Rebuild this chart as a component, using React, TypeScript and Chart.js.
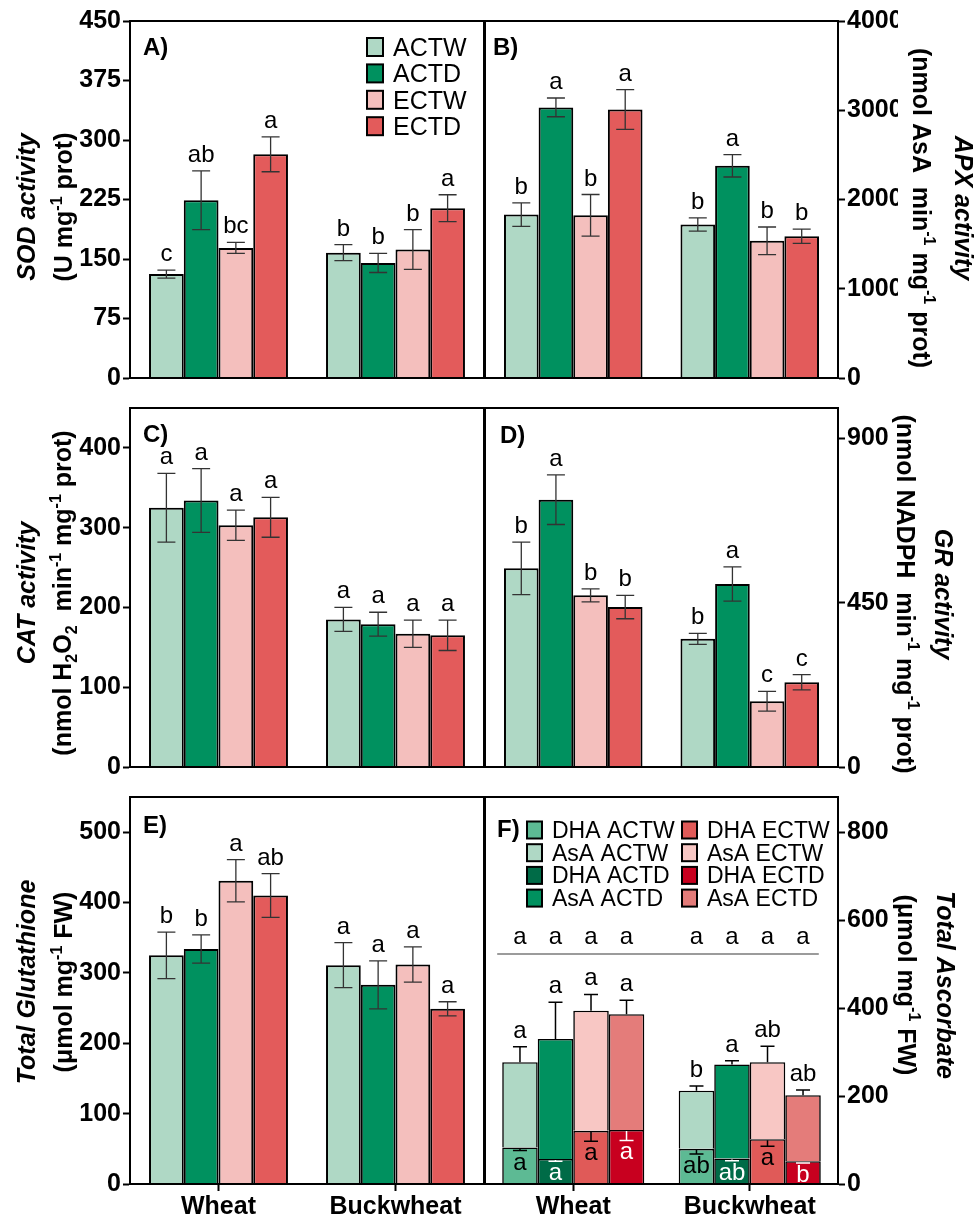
import React, { useEffect, useRef } from 'react';
import { Chart, registerables } from 'chart.js';

Chart.register(...registerables);

const FONT = '"Liberation Sans", Arial, Helvetica, sans-serif';

const CROPS = ['Wheat', 'Buckwheat'];
const TREATMENTS = ['ACTW', 'ACTD', 'ECTW', 'ECTD'];
const TREATMENT_COLORS = ['#afd8c5', '#00915f', '#f4bfbd', '#e35b5b'];

// A) SOD activity, per treatment: [Wheat, Buckwheat]
const sodTicks = [0, 75, 150, 225, 300, 375, 450];
const sodMean = [[131, 158], [224, 145], [164, 162], [282, 214]];
const sodErr = [[5, 10], [37, 12], [7, 25], [22, 17]];
const sodSig = [['c', 'b'], ['ab', 'b'], ['bc', 'b'], ['a', 'a']];

// B) APX activity
const apxTicks = [0, 1000, 2000, 3000, 4000];
const apxMean = [[1831, 1720], [3032, 2377], [1823, 1537], [3008, 1589]];
const apxErr = [[132, 75], [105, 125], [233, 155], [222, 80]];
const apxSig = [['b', 'b'], ['a', 'a'], ['b', 'b'], ['a', 'b']];

// C) CAT activity
const catTicks = [0, 100, 200, 300, 400];
const catMean = [[325, 185], [334, 179], [303, 167], [313, 165]];
const catErr = [[43, 15], [40, 15], [19, 17], [25, 19]];
const catSig = [['a', 'a'], ['a', 'a'], ['a', 'a'], ['a', 'a']];

// D) GR activity
const grTicks = [0, 450, 900];
const grMean = [[544, 351], [732, 501], [470, 180], [438, 232]];
const grErr = [[72, 15], [68, 47], [18, 27], [32, 21]];
const grSig = [['b', 'b'], ['a', 'a'], ['b', 'c'], ['b', 'c']];

// E) Total glutathione
const gshTicks = [0, 100, 200, 300, 400, 500];
const gshMean = [[325, 311], [334, 283], [431, 312], [410, 249]];
const gshErr = [[33, 32], [20, 34], [30, 25], [31, 10]];
const gshSig = [['b', 'a'], ['b', 'a'], ['a', 'a'], ['ab', 'a']];

// F) Total ascorbate = DHA + AsA (stacked)
const ascTicks = [0, 200, 400, 600, 800];
const dhaMean = [[83, 80], [57, 58], [121, 102], [123, 52]];
const dhaErr = [[7, 12], [5, 5], [24, 16], [24, 4]];
const dhaSig = [['a', 'ab'], ['a', 'ab'], ['a', 'a'], ['a', 'b']];
const asaMean = [[194, 132], [273, 214], [273, 175], [263, 150]];
const totalAscErr = [[35, 11], [83, 8], [37, 36], [32, 12]];
const totalAscSig = [['a', 'b'], ['a', 'a'], ['a', 'ab'], ['a', 'ab']];
const asaRowSig = [['a', 'a'], ['a', 'a'], ['a', 'a'], ['a', 'a']];
const ascLabels = ['DHA ACTW', 'AsA ACTW', 'DHA ACTD', 'AsA ACTD', 'DHA ECTW', 'AsA ECTW', 'DHA ECTD', 'AsA ECTD'];
const ascColors = ['#5dba94', '#afd8c5', '#006b47', '#00915f', '#e05a58', '#f8c7c4', '#c8001f', '#e47c7a'];
const dhaInkColors = ['#000', '#fff', '#000', '#fff'];

type Run = { t: string; i?: boolean; sup?: boolean; sub?: boolean };
type Panel = {
  key: string;
  area: { l: number; r: number; t: number; b: number };
  side: 'left' | 'right';
  max: number;
  ticks: number[];
  tag: string;
  tagOff: [number, number];
  title: [Run[], Run[]];
  titleX: [number, number];
  titleY: number;
  showX: boolean;
  kind: 'bar' | 'stack';
  mean?: number[][];
  err?: number[][];
  sig?: string[][];
};

const minus1: Run = { t: '-1', sup: true };

const PANELS: Panel[] = [
  {
    key: 'A', area: { l: 130, r: 484, t: 21, b: 408 }, side: 'left', max: 450, ticks: sodTicks,
    tag: 'A)', tagOff: [13, 34], showX: false, kind: 'bar',
    title: [[{ t: 'SOD activity', i: true }], [{ t: '(U mg' }, minus1, { t: ' prot)' }]],
    titleX: [35, 72], titleY: 207, mean: sodMean, err: sodErr, sig: sodSig,
  },
  {
    key: 'B', area: { l: 485, r: 838, t: 21, b: 408 }, side: 'right', max: 4000, ticks: apxTicks,
    tag: 'B)', tagOff: [8, 34], showX: false, kind: 'bar',
    title: [[{ t: 'APX activity', i: true }], [{ t: '(nmol AsA  min' }, minus1, { t: ' mg' }, minus1, { t: ' prot)' }]],
    titleX: [955, 913], titleY: 208, mean: apxMean, err: apxErr, sig: apxSig,
  },
  {
    key: 'C', area: { l: 130, r: 484, t: 408, b: 797 }, side: 'left', max: 450, ticks: catTicks,
    tag: 'C)', tagOff: [13, 34], showX: false, kind: 'bar',
    title: [[{ t: 'CAT activity', i: true }], [{ t: '(nmol H' }, { t: '2', sub: true }, { t: 'O' }, { t: '2', sub: true }, { t: '  min' }, minus1, { t: ' mg' }, minus1, { t: ' prot)' }]],
    titleX: [35, 71], titleY: 593, mean: catMean, err: catErr, sig: catSig,
  },
  {
    key: 'D', area: { l: 485, r: 838, t: 408, b: 797 }, side: 'right', max: 983, ticks: grTicks,
    tag: 'D)', tagOff: [15, 35], showX: false, kind: 'bar',
    title: [[{ t: 'GR activity', i: true }], [{ t: '(nmol NADPH  min' }, minus1, { t: ' mg' }, minus1, { t: ' prot)' }]],
    titleX: [935, 897], titleY: 594, mean: grMean, err: grErr, sig: grSig,
  },
  {
    key: 'E', area: { l: 130, r: 484, t: 797, b: 1184 }, side: 'left', max: 550, ticks: gshTicks,
    tag: 'E)', tagOff: [13, 36], showX: true, kind: 'bar',
    title: [[{ t: 'Total Glutathione', i: true }], [{ t: '(\u03bcmol mg' }, minus1, { t: ' FW)' }]],
    titleX: [35, 72], titleY: 982, mean: gshMean, err: gshErr, sig: gshSig,
  },
  {
    key: 'F', area: { l: 485, r: 838, t: 797, b: 1184 }, side: 'right', max: 880, ticks: ascTicks,
    tag: 'F)', tagOff: [12, 40], showX: true, kind: 'stack',
    title: [[{ t: 'Total Ascorbate', i: true }], [{ t: '(\u03bcmol mg' }, minus1, { t: ' FW)' }]],
    titleX: [937, 898], titleY: 985,
  },
];

const W = 976;
const H = 1220;
const AXIS_W = 60;
const AXIS_H = 30;

function runFont(r: Run, size: number) {
  const s = r.sup || r.sub ? Math.round(size * 0.62) : size;
  return `${r.i ? 'italic ' : ''}bold ${s}px ${FONT}`;
}

function drawRich(ctx: CanvasRenderingContext2D, runs: Run[], x: number, y: number, angle: number, size: number) {
  ctx.save();
  ctx.translate(x, y);
  ctx.rotate(angle);
  ctx.textBaseline = 'alphabetic';
  ctx.textAlign = 'left';
  ctx.fillStyle = '#000';
  let total = 0;
  for (const r of runs) {
    ctx.font = runFont(r, size);
    total += ctx.measureText(r.t).width;
  }
  let cx = -total / 2;
  for (const r of runs) {
    ctx.font = runFont(r, size);
    const dy = r.sup ? -size * 0.42 : r.sub ? size * 0.22 : 0;
    ctx.fillText(r.t, cx, dy);
    cx += ctx.measureText(r.t).width;
  }
  ctx.restore();
}

function capLine(ctx: CanvasRenderingContext2D, x: number, y: number, w: number) {
  ctx.moveTo(x - w / 2, y);
  ctx.lineTo(x + w / 2, y);
}

function makePlugin(p: Panel) {
  return {
    id: 'panelDecor' + p.key,
    afterDatasetsDraw(chart: any) {
      const ctx: CanvasRenderingContext2D = chart.ctx;
      const a = chart.chartArea;
      const ys = chart.scales.y;
      ctx.save();

      // frame around the plot area
      ctx.strokeStyle = '#000';
      ctx.lineWidth = 2;
      ctx.strokeRect(a.left, a.top, a.right - a.left, a.bottom - a.top);

      ctx.textAlign = 'center';
      ctx.textBaseline = 'alphabetic';

      if (p.kind === 'bar' && p.mean && p.err && p.sig) {
        const capW = 18;
        for (let t = 0; t < TREATMENTS.length; t++) {
          const meta = chart.getDatasetMeta(t);
          for (let i = 0; i < CROPS.length; i++) {
            const bar = meta.data[i];
            const v = p.mean[t][i];
            const e = p.err[t][i];
            const yHi = ys.getPixelForValue(v + e);
            const yLo = ys.getPixelForValue(v - e);
            ctx.strokeStyle = '#333';
            ctx.lineWidth = 1.3;
            ctx.beginPath();
            ctx.moveTo(bar.x, yHi);
            ctx.lineTo(bar.x, yLo);
            capLine(ctx, bar.x, yHi, capW);
            capLine(ctx, bar.x, yLo, capW);
            ctx.stroke();
            ctx.fillStyle = '#000';
            ctx.font = `24px ${FONT}`;
            ctx.fillText(p.sig[t][i], bar.x, yHi - 9);
          }
        }
      }

      if (p.kind === 'stack') {
        const capW = 14;
        let firstLeft = Infinity;
        let lastRight = -Infinity;
        for (let t = 0; t < TREATMENTS.length; t++) {
          const dMeta = chart.getDatasetMeta(2 * t);
          for (let i = 0; i < CROPS.length; i++) {
            const bar = dMeta.data[i];
            firstLeft = Math.min(firstLeft, bar.x - bar.width / 2);
            lastRight = Math.max(lastRight, bar.x + bar.width / 2);
            // total ascorbate: upward error bar
            const total = dhaMean[t][i] + asaMean[t][i];
            const yTop = ys.getPixelForValue(total);
            const yCap = ys.getPixelForValue(total + totalAscErr[t][i]);
            ctx.strokeStyle = '#000';
            ctx.lineWidth = 1.5;
            ctx.beginPath();
            ctx.moveTo(bar.x, yTop);
            ctx.lineTo(bar.x, yCap);
            capLine(ctx, bar.x, yCap, capW);
            ctx.stroke();
            ctx.fillStyle = '#000';
            ctx.font = `24px ${FONT}`;
            ctx.fillText(totalAscSig[t][i], bar.x, yCap - 9);

            // DHA: downward error bar inside the segment
            const dTop = ys.getPixelForValue(dhaMean[t][i]);
            const dCap = ys.getPixelForValue(dhaMean[t][i] - dhaErr[t][i]);
            ctx.strokeStyle = dhaInkColors[t];
            ctx.beginPath();
            ctx.moveTo(bar.x, dTop + 1);
            ctx.lineTo(bar.x, dCap);
            capLine(ctx, bar.x, dCap, capW);
            ctx.stroke();
            ctx.fillStyle = dhaInkColors[t];
            ctx.fillText(dhaSig[t][i], bar.x, Math.min(dCap + 19, a.bottom - 2));

            // AsA letters row
            ctx.fillStyle = '#000';
            ctx.fillText(asaRowSig[t][i], bar.x, ys.getPixelForValue(545));
          }
        }
        const yRule = ys.getPixelForValue(523);
        ctx.strokeStyle = '#7a7a7a';
        ctx.lineWidth = 1.5;
        ctx.beginPath();
        ctx.moveTo(firstLeft - 5, yRule);
        ctx.lineTo(lastRight - 2, yRule);
        ctx.stroke();

        // two-column legend
        ctx.font = `23px ${FONT}`;
        ctx.textAlign = 'left';
        for (let k = 0; k < ascLabels.length; k++) {
          const col = Math.floor(k / 4);
          const row = k % 4;
          const bx = a.left + (col === 0 ? 42 : 197);
          const cy = a.top + 33 + row * 22.7;
          ctx.fillStyle = ascColors[k];
          ctx.fillRect(bx, cy - 8.5, 15, 17);
          ctx.strokeStyle = '#000';
          ctx.lineWidth = 2;
          ctx.strokeRect(bx, cy - 8.5, 15, 17);
          ctx.fillStyle = '#000';
          ctx.fillText(ascLabels[k], bx + 25, cy + 8);
        }
      }

      if (p.key === 'A') {
        ctx.font = `25px ${FONT}`;
        ctx.textAlign = 'left';
        for (let t = 0; t < TREATMENTS.length; t++) {
          const cy = a.top + 26 + t * 26.4;
          const bx = a.left + 237;
          ctx.fillStyle = TREATMENT_COLORS[t];
          ctx.fillRect(bx, cy - 9, 16, 18);
          ctx.strokeStyle = '#000';
          ctx.lineWidth = 2;
          ctx.strokeRect(bx, cy - 9, 16, 18);
          ctx.fillStyle = '#000';
          ctx.fillText(TREATMENTS[t], bx + 26, cy + 9);
        }
      }

      // panel tag
      ctx.fillStyle = '#000';
      ctx.font = `bold 24px ${FONT}`;
      ctx.textAlign = 'left';
      ctx.fillText(p.tag, a.left + p.tagOff[0], a.top + p.tagOff[1]);

      // axis titles
      const ang = p.side === 'left' ? -Math.PI / 2 : Math.PI / 2;
      drawRich(ctx, p.title[0], p.titleX[0], p.titleY, ang, 25);
      drawRich(ctx, p.title[1], p.titleX[1], p.titleY, ang, 25);

      ctx.restore();
    },
  };
}

function buildConfig(p: Panel): any {
  const padding = {
    left: p.side === 'left' ? p.area.l - AXIS_W : p.area.l,
    right: p.side === 'right' ? W - p.area.r - AXIS_W : W - p.area.r,
    top: p.area.t,
    bottom: H - p.area.b - (p.showX ? AXIS_H : 0),
  };
  let datasets: any[];
  if (p.kind === 'bar') {
    datasets = TREATMENTS.map((name, t) => ({
      label: name,
      data: p.mean![t],
      backgroundColor: TREATMENT_COLORS[t],
      borderColor: '#000',
      borderWidth: 2,
      borderSkipped: 'bottom',
      categoryPercentage: 0.785,
      barPercentage: 1,
    }));
  } else {
    datasets = [];
    TREATMENTS.forEach((name, t) => {
      datasets.push({
        label: ascLabels[2 * t], data: dhaMean[t], stack: name,
        backgroundColor: ascColors[2 * t], borderColor: '#000', borderWidth: 1.6, borderSkipped: 'bottom',
        categoryPercentage: 0.805, barPercentage: 1,
      });
      datasets.push({
        label: ascLabels[2 * t + 1], data: asaMean[t], stack: name,
        backgroundColor: ascColors[2 * t + 1], borderColor: '#000', borderWidth: 1.6, borderSkipped: 'bottom',
        categoryPercentage: 0.805, barPercentage: 1,
      });
    });
  }
  const stacked = p.kind === 'stack';
  return {
    type: 'bar',
    data: { labels: CROPS, datasets },
    options: {
      animation: false,
      responsive: false,
      devicePixelRatio: 1,
      events: [],
      layout: { padding },
      plugins: { legend: { display: false }, tooltip: { enabled: false } },
      scales: {
        x: {
          type: 'category',
          display: p.showX,
          stacked,
          afterFit: (s: any) => { s.height = AXIS_H; },
          grid: { display: true, drawOnChartArea: false, offset: false, tickLength: 7, tickWidth: 2, tickColor: '#000' },
          border: { display: true, width: 2, color: '#000' },
          ticks: { color: '#000', font: { family: FONT, size: 25, weight: 'bold' }, padding: 1, maxRotation: 0, autoSkip: false },
        },
        y: {
          type: 'linear',
          position: p.side,
          min: 0,
          max: p.max,
          stacked,
          afterFit: (s: any) => { s.width = AXIS_W; },
          afterBuildTicks: (s: any) => { s.ticks = p.ticks.map((v) => ({ value: v })); },
          grid: { drawOnChartArea: false, tickLength: 7, tickWidth: 2, tickColor: '#000' },
          border: { display: true, width: 2, color: '#000' },
          ticks: {
            color: '#000',
            font: { family: FONT, size: 25, weight: 'bold' },
            padding: 2,
            callback: (v: any) => String(v),
          },
        },
      },
    },
    plugins: [makePlugin(p)],
  };
}

function PanelCanvas({ panel }: { panel: Panel }) {
  const ref = useRef<HTMLCanvasElement>(null);
  useEffect(() => {
    if (!ref.current) return;
    const chart = new Chart(ref.current, buildConfig(panel));
    return () => chart.destroy();
  }, [panel]);
  return (
    <canvas
      ref={ref}
      width={W}
      height={H}
      style={{ position: 'absolute', left: 0, top: 0, width: W, height: H }}
    />
  );
}

export default function App() {
  return (
    <div style={{ position: 'absolute', left: 0, top: 0, width: W, height: H, background: '#fff', overflow: 'hidden' }}>
      {PANELS.map((p) => (
        <PanelCanvas key={p.key} panel={p} />
      ))}
    </div>
  );
}
